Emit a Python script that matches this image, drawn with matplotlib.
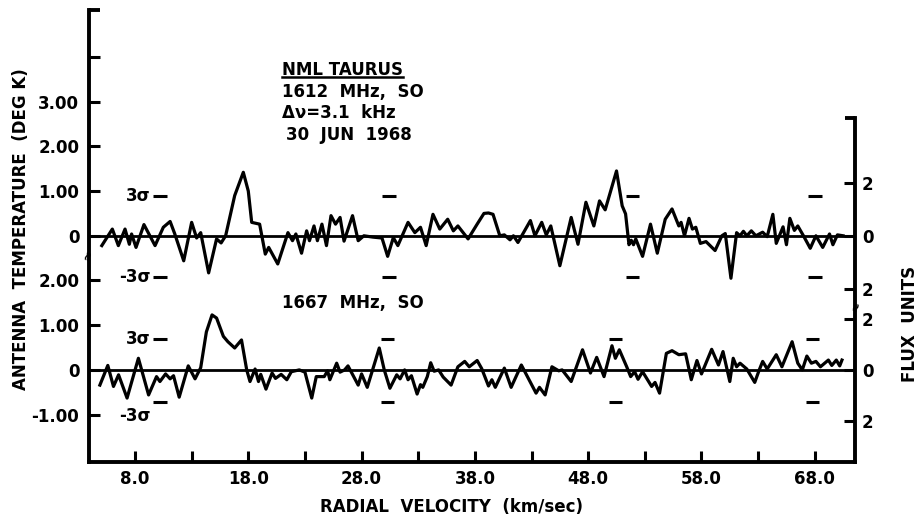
import numpy as np
import matplotlib
matplotlib.use('Agg')
import matplotlib.pyplot as plt

# NML Taurus OH spectra, 1612 and 1667 MHz (30 Jun 1968)
# velocity (km/sec) and antenna temperature (deg K) at turning points of each trace
v_1612 = [5.07, 6.0, 6.53, 7.12, 7.5, 7.7, 8.09, 8.79, 9.77, 10.5, 11.1, 11.5, 12.3, 13.0,
          13.44, 13.8, 14.5, 15.2, 15.6, 16.0, 16.8, 17.56, 18.0, 18.3, 19.0, 19.5, 19.8,
          20.6, 21.5, 21.9, 22.2, 22.7, 23.15, 23.4, 23.8, 24.1, 24.5, 24.9, 25.3, 25.7,
          26.1, 26.45, 27.2, 27.7, 28.2, 29.0, 29.8, 30.3, 30.8, 31.2, 32.1, 32.7, 33.2,
          33.7, 34.3, 34.9, 35.6, 36.1, 36.5, 37.4, 38.2, 38.8, 39.2, 39.6, 40.2, 40.6,
          41.1, 41.4, 41.8, 42.9, 43.3, 43.9, 44.3, 44.7, 45.5, 46.5, 47.1, 47.8, 48.5,
          49.0, 49.5, 50.5, 51.0, 51.3, 51.6, 51.8, 52.0, 52.2, 52.8, 53.5, 54.1, 54.8,
          55.4, 56.0, 56.2, 56.5, 56.9, 57.2, 57.5, 57.9, 58.4, 59.2, 59.8, 60.1, 60.6,
          61.1, 61.4, 61.7, 62.0, 62.4, 62.8, 63.4, 63.8, 64.3, 64.6, 65.2, 65.5, 65.8,
          66.2, 66.5, 67.0, 67.6, 68.1, 68.7, 69.3, 69.6, 70.0, 70.5]
t_1612 = [-0.22, 0.15, -0.22, 0.15, -0.19, 0.04, -0.26, 0.25, -0.22, 0.19, 0.32, 0.05, -0.56, 0.30,
          -0.05, 0.07, -0.83, -0.07, -0.16, 0.0, 0.9, 1.42, 1.0, 0.30, 0.26, -0.41, -0.26,
          -0.63, 0.07, -0.11, 0.04, -0.39, 0.11, -0.11, 0.22, -0.11, 0.26, -0.22, 0.45, 0.26,
          0.41, -0.12, 0.45, -0.11, 0.0, -0.03, -0.05, -0.46, -0.04, -0.22, 0.30, 0.07, 0.19,
          -0.22, 0.48, 0.15, 0.37, 0.11, 0.22, -0.07, 0.26, 0.50, 0.51, 0.48, 0.0, 0.02,
          -0.09, 0.0, -0.15, 0.34, 0.0, 0.30, 0.02, 0.22, -0.67, 0.41, -0.19, 0.75, 0.22,
          0.78, 0.58, 1.45, 0.67, 0.49, -0.20, -0.10, -0.20, -0.07, -0.46, 0.26, -0.39, 0.37,
          0.60, 0.22, 0.30, 0.0, 0.39, 0.15, 0.19, -0.17, -0.13, -0.33, 0.0, 0.05, -0.95,
          0.07, 0.0, 0.10, 0.0, 0.11, 0.0, 0.08, -0.02, 0.48, -0.17, 0.20, -0.20, 0.39,
          0.12, 0.22, 0.0, -0.28, 0.0, -0.26, 0.04, -0.20, 0.02, 0.0]

v_1667 = [4.9, 5.6, 6.1, 6.55, 7.3, 8.3, 9.2, 9.9, 10.2, 10.7, 11.1, 11.4, 11.9, 12.7, 13.3,
          13.8, 14.3, 14.8, 15.2, 15.8, 16.2, 16.8, 17.4, 17.86, 18.15, 18.6, 18.9, 19.1,
          19.56, 20.1, 20.4, 20.9, 21.4, 21.8, 22.5, 23.0, 23.6, 24.0, 24.7, 25.0, 25.2,
          25.8, 26.1, 26.5, 26.8, 27.7, 28.0, 28.5, 29.56, 30.0, 30.5, 31.1, 31.4, 31.8,
          32.1, 32.4, 32.9, 33.2, 33.4, 33.8, 34.1, 34.4, 34.8, 35.2, 35.9, 36.5, 37.1,
          37.5, 38.2, 38.6, 39.2, 39.5, 39.8, 40.6, 41.2, 42.1, 42.7, 43.4, 43.7, 44.2,
          44.8, 45.4, 45.7, 46.5, 47.5, 48.2, 48.75, 49.4, 50.1, 50.4, 50.75, 51.4, 51.75,
          52.1, 52.4, 52.8, 53.6, 53.9, 54.3, 54.9, 55.4, 56.0, 56.6, 57.1, 57.6, 58.0,
          58.9, 59.5, 59.9, 60.5, 60.8, 61.1, 61.4, 62.0, 62.7, 63.1, 63.4, 63.8, 64.6,
          65.1, 66.0, 66.5, 66.9, 67.3, 67.7, 68.1, 68.5, 69.2, 69.5, 69.9, 70.2, 70.4]
t_1667 = [-0.34, 0.10, -0.37, -0.11, -0.63, 0.26, -0.56, -0.15, -0.26, -0.09, -0.20, -0.13, -0.61, 0.09, -0.20,
          0.05, 0.85, 1.23, 1.16, 0.75, 0.63, 0.49, 0.67, 0.0, -0.26, 0.02, -0.26, -0.10,
          -0.43, -0.07, -0.19, -0.10, -0.22, -0.04, 0.0, -0.05, -0.63, -0.15, -0.15, -0.02, -0.22,
          0.15, -0.05, 0.0, 0.09, -0.34, -0.09, -0.39, 0.49, 0.0, -0.41, -0.11, -0.20, 0.0,
          -0.22, -0.13, -0.54, -0.33, -0.39, -0.15, 0.16, -0.03, 0.0, -0.16, -0.34, 0.07, 0.19,
          0.07, 0.21, 0.03, -0.36, -0.22, -0.39, 0.04, -0.39, 0.11, -0.18, -0.52, -0.39, -0.56,
          0.07, -0.02, 0.0, -0.26, 0.45, -0.07, 0.28, -0.15, 0.54, 0.26, 0.45, 0.07, -0.15,
          -0.04, -0.21, -0.04, -0.37, -0.28, -0.52, 0.37, 0.43, 0.34, 0.36, -0.22, 0.21, -0.09,
          0.46, 0.11, 0.41, -0.26, 0.26, 0.07, 0.15, 0.02, -0.28, 0.0, 0.19, 0.02, 0.34,
          0.07, 0.63, 0.15, 0.0, 0.31, 0.15, 0.19, 0.07, 0.22, 0.10, 0.22, 0.09, 0.22]

# 3 sigma levels (deg K) and the velocities where they are marked
sig_v = [10.2, 30.4, 51.9, 68.0]
sig_1612 = [0.90, -0.92]
sig_v_1667 = [10.2, 30.3, 50.4, 67.8]
sig_1667 = [0.68, -0.72]

offset_1612 = 3.0          # upper trace sits 3 K above the lower one
k_per_flux = [0.59, 0.57]  # deg K per flux unit for 1612 / 1667

left_ticks = [-1, 0, 1, 2, 3, 4, 5, 6, 7]
left_labels = ['-1.00', '0', '1.00', '2.00', '0', '1.00', '2.00', '3.00', '']
vel_ticks = [8, 13, 18, 23, 28, 33, 38, 43, 48, 53, 58, 63, 68]
vel_labels = ['8.0', '', '18.0', '', '28.0', '', '38.0', '', '48.0', '', '58.0', '', '68.0']

plt.rcParams['font.family'] = 'DejaVu Sans'
plt.rcParams['font.weight'] = 'bold'

W, H = 919, 520
fig = plt.figure(figsize=(W / 100, H / 100), dpi=100)
ax = fig.add_axes([89 / W, 1 - 462 / H, (855 - 89) / W, (462 - 10) / H])
ymin, ymax = -2.06, 8.05
xmin, xmax = 3.94, 71.55
ax.set_xlim(xmin, xmax)
ax.set_ylim(ymin, ymax)

lw = 2.3
ax.plot(v_1612, np.array(t_1612) + offset_1612, color='black', lw=lw, solid_joinstyle='round')
ax.plot(v_1667, t_1667, color='black', lw=lw, solid_joinstyle='round')
ax.axhline(offset_1612, color='black', lw=2.0)
ax.axhline(0, color='black', lw=2.0)

# 3 sigma dashes
for s in sig_1612:
    ax.hlines([s + offset_1612] * len(sig_v), np.array(sig_v) - 0.6, np.array(sig_v) + 0.6,
              color='black', lw=2.2)
for s in sig_1667:
    ax.hlines([s] * len(sig_v_1667), np.array(sig_v_1667) - 0.6, np.array(sig_v_1667) + 0.6,
              color='black', lw=2.2)
fs = 12
ax.text(9.4, sig_1612[0] + offset_1612, '3σ', ha='right', va='center', fontsize=fs)
ax.text(9.4, sig_1612[1] + offset_1612, '-3σ', ha='right', va='center', fontsize=fs)
ax.text(9.4, sig_1667[0], '3σ', ha='right', va='center', fontsize=fs)
ax.text(9.4, sig_1667[1] - 0.3, '-3σ', ha='right', va='center', fontsize=fs)

# spines
for side in ['top', 'right']:
    ax.spines[side].set_visible(False)
for side in ['left', 'bottom']:
    ax.spines[side].set_linewidth(2.8)
ax.plot([xmin, xmin + 1.0], [ymax, ymax], color='black', lw=2.8, clip_on=False,
        solid_capstyle='butt')

ax.set_yticks(left_ticks)
ax.set_yticklabels(left_labels)
ax.set_xticks(vel_ticks)
ax.set_xticklabels(vel_labels)
ax.tick_params(axis='y', direction='in', length=8, width=2.2, labelsize=fs, pad=7)
ax.tick_params(axis='x', direction='in', length=8, width=2.2, labelsize=fs, pad=6)

# flux scale on the right
right_top = 5.64
ax2 = ax.twinx()
ax2.set_ylim(ymin, ymax)
for side in ['top', 'left', 'bottom']:
    ax2.spines[side].set_visible(False)
ax2.spines['right'].set_linewidth(2.8)
ax2.spines['right'].set_bounds(ymin, right_top)
flux_pos = []
flux_lab = []
for base, k in [(offset_1612, k_per_flux[0]), (0.0, k_per_flux[1])]:
    for f in [2, 0, -2]:
        flux_pos.append(base + f * k)
        flux_lab.append(str(abs(f)))
ax2.set_yticks(flux_pos)
ax2.set_yticklabels(flux_lab)
ax2.tick_params(axis='y', direction='in', length=8, width=2.2, labelsize=fs, pad=5)
ax.plot([xmax - 0.9, xmax], [right_top, right_top], color='black', lw=2.8, clip_on=False,
        solid_capstyle='butt')

# axis breaks
ax.text(xmin, 2.57, '≈', rotation=70, ha='center', va='center', fontsize=9, clip_on=False)
ax.text(xmax + 0.1, 1.42, '≈', rotation=70, ha='center', va='center', fontsize=9, clip_on=False)

# labels
fig.text(21 / W, 1 - 229 / H, 'ANTENNA  TEMPERATURE  (DEG K)', rotation=90,
         ha='center', va='center', fontsize=fs)
fig.text(910 / W, 1 - 324 / H, 'FLUX  UNITS', rotation=90, ha='center', va='center', fontsize=fs)
fig.text(451 / W, 1 - 507 / H, 'RADIAL  VELOCITY  (km/sec)', ha='center', va='center', fontsize=fs)

# source annotation
tx = 21.0
title = ax.text(tx, 6.71, 'NML TAURUS', ha='left', va='center', fontsize=fs)
ax.text(tx, 6.22, '1612  MHz,  SO', ha='left', va='center', fontsize=fs)
ax.text(tx, 5.75, 'Δν=3.1  kHz', ha='left', va='center', fontsize=fs)
ax.text(tx + 0.3, 5.26, '30  JUN  1968', ha='left', va='center', fontsize=fs)
ax.text(tx, 1.5, '1667  MHz,  SO', ha='left', va='center', fontsize=fs)

fig.canvas.draw()
bb = title.get_window_extent().transformed(fig.transFigure.inverted())
fig.add_artist(plt.Line2D([bb.x0, bb.x1], [bb.y0 + 0.003, bb.y0 + 0.003], color='black', lw=1.8))

fig.savefig('out.png', dpi=100)
